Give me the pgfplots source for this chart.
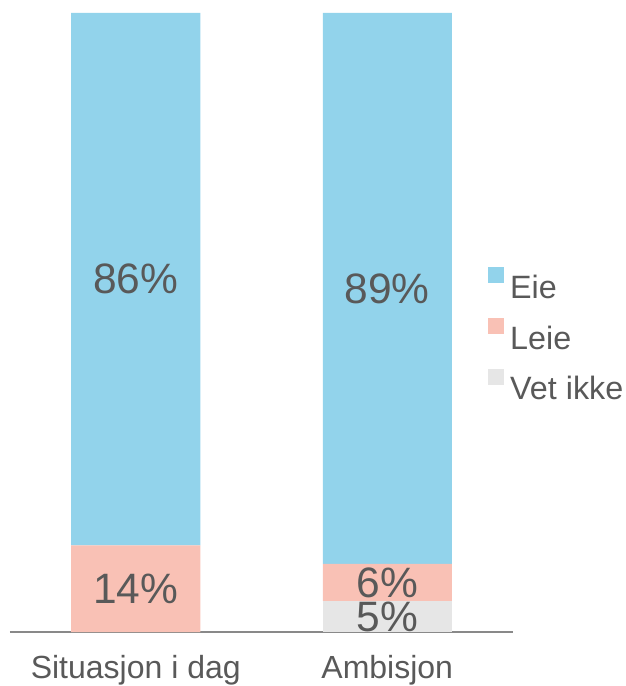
\documentclass[border=0pt]{standalone}
\usepackage{pgfplots}
\pgfplotsset{compat=1.18}
\usepackage{fontspec}
\setmainfont{Liberation Sans}
\definecolor{eie}{HTML}{92D3EB}
\definecolor{leie}{HTML}{F9C1B5}
\definecolor{vetikke}{HTML}{E6E6E6}
\definecolor{txt}{HTML}{595959}
\definecolor{axisgray}{HTML}{898989}
\begin{document}
\begin{tikzpicture}
\path[use as bounding box] (-10pt,-54pt) rectangle (615pt,632pt);
\begin{axis}[
  at={(0pt,0pt)}, anchor=south west,
  scale only axis, width=503pt, height=619pt,
  ybar stacked, bar width=129pt,
  xmin=-0.5, xmax=1.5, ymin=0, ymax=100,
  axis x line=bottom, axis y line=none,
  x axis line style={-, draw=axisgray, line width=1.2pt},
  xtick={0,1}, xticklabels={Situasjon i dag, Ambisjon},
  major tick length=0pt,
  xticklabel style={font=\fontsize{32}{32}\selectfont, text=txt, yshift=-20pt},
  reverse legend,
  legend image code/.code={\fill[#1] (0pt,3.6pt) rectangle (16pt,19.6pt);},
  legend style={at={(0.9503,0.482)}, anchor=west, draw=none, fill=none,
    font=\fontsize{32.3}{32.3}\selectfont, text=txt, inner sep=0pt,
    nodes={inner sep=0pt, text height=23pt, text depth=0pt},
    row sep=19.5pt, /tikz/every odd column/.append style={column sep=6pt}},
  legend cell align=left,
]
\addplot[fill=vetikke, draw=none] coordinates {(0,0) (1,5)};
\addplot[fill=leie, draw=none] coordinates {(0,14) (1,6)};
\addplot[fill=eie, draw=none] coordinates {(0,86) (1,89)};
\legend{Vet ikke, Leie, Eie}
\end{axis}
% value labels, centred in their segments
\begin{axis}[
  at={(0pt,0pt)}, anchor=south west,
  scale only axis, width=503pt, height=619pt,
  xmin=-0.5, xmax=1.5, ymin=0, ymax=100, hide axis,
]
\addplot[draw=none, mark=none, nodes near coords, point meta=explicit symbolic,
  every node near coord/.append style={anchor=center, font=\fontsize{42.5}{42.5}\selectfont, text=txt, inner sep=0pt}]
  coordinates {(0,7) [14\%] (0,57) [86\%] (1,2.5) [5\%] (1,8) [6\%] (1,55.5) [89\%]};
\end{axis}
\end{tikzpicture}
\end{document}
